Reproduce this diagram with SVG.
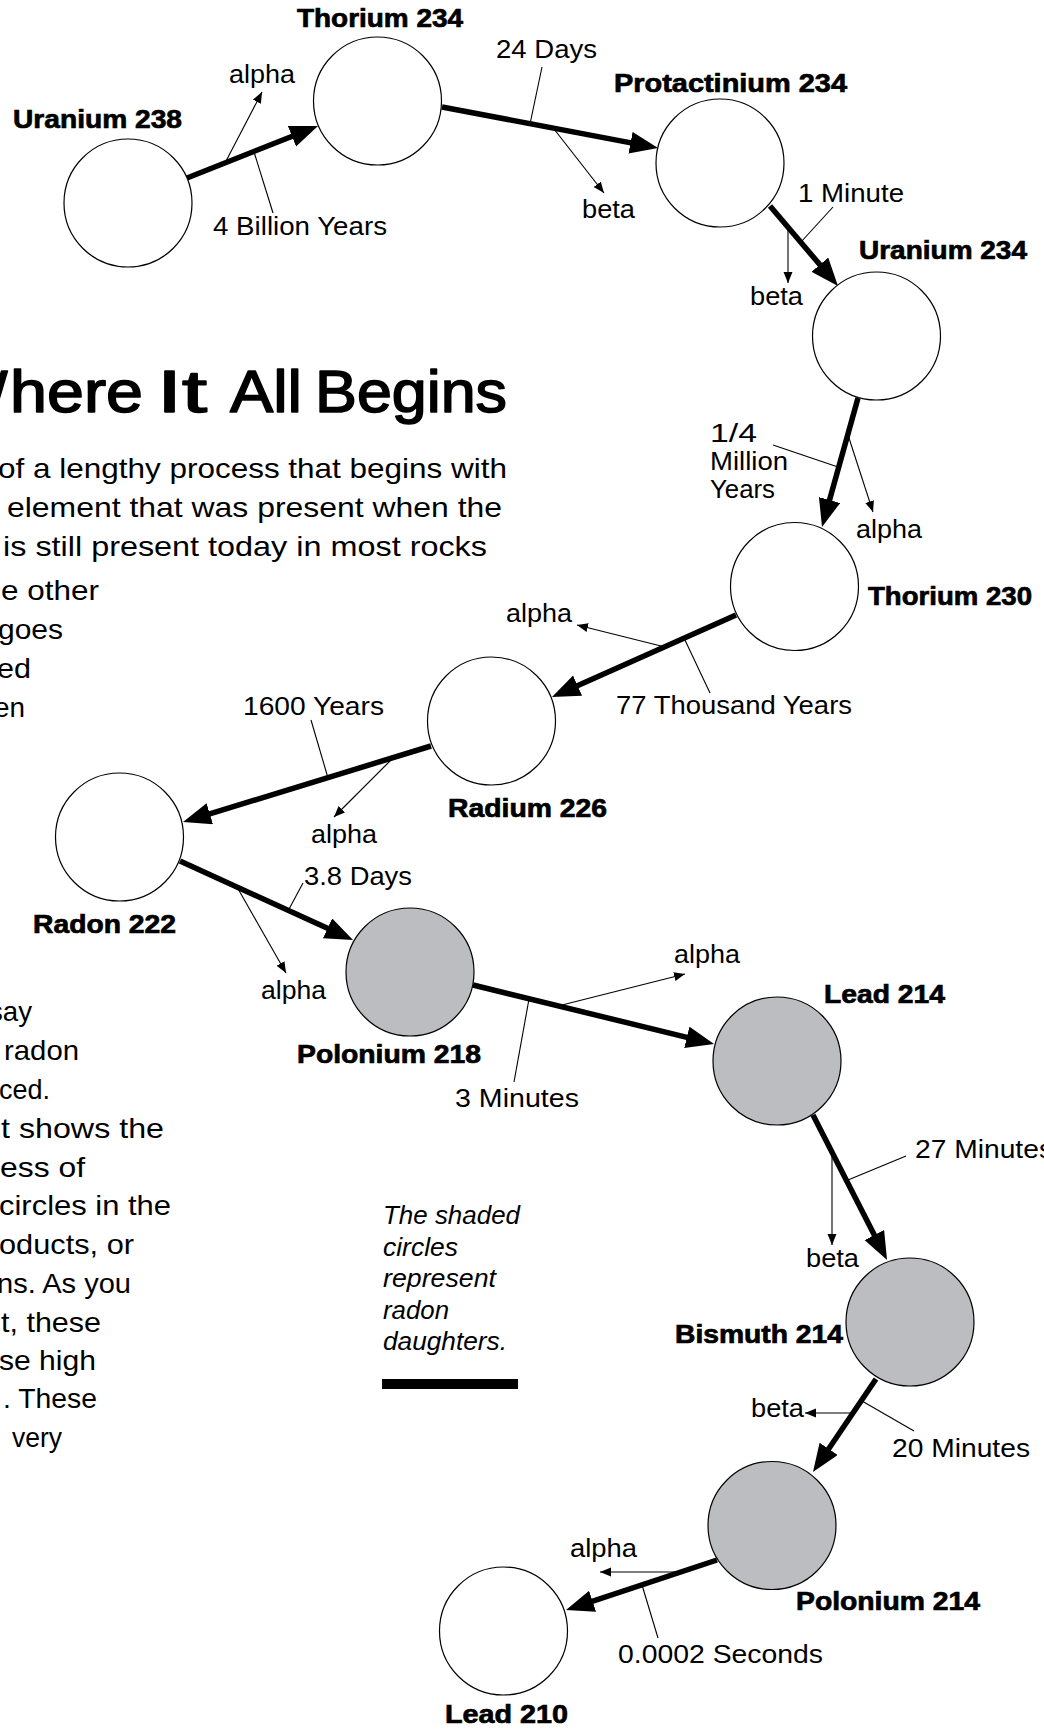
<svg xmlns="http://www.w3.org/2000/svg" width="1044" height="1729" viewBox="0 0 1044 1729">
<style>
text { font-family: "Liberation Sans", Arial, sans-serif; fill: #000; }
.lbl { font-size: 25px; }
.name { font-size: 26px; font-weight: bold; stroke: #000; stroke-width: 0.7px; }
.body { font-size: 28px; }
.note { font-size: 25px; font-style: italic; }
.title { font-size: 60px; stroke: #000; stroke-width: 1.6px; stroke-linejoin: round; }
.ring { stroke: #000; stroke-width: 1.2; }
.white { fill: #fff; }
.shade { fill: #bcbdc0; }
.thick { stroke: #000; stroke-width: 5.5; fill: none; marker-end: url(#big); }
.thin { stroke: #000; stroke-width: 1.1; fill: none; marker-end: url(#small); }
.leader { stroke: #000; stroke-width: 1.1; fill: none; }
</style>
<defs>
<marker id="big" markerUnits="userSpaceOnUse" markerWidth="30" markerHeight="24" refX="18" refY="11" orient="auto">
<path d="M0,0 L28,11 L0,22 z" fill="#000"/>
</marker>
<marker id="small" markerUnits="userSpaceOnUse" markerWidth="13" markerHeight="11" refX="11" refY="4.5" orient="auto">
<path d="M0,0 L11,4.5 L0,9 z" fill="#000"/>
</marker>
</defs>
<rect width="1044" height="1729" fill="#fff"/>

<g id="title">
<text class="title" y="412"><tspan x="-49">W</tspan><tspan x="10" textLength="133" lengthAdjust="spacingAndGlyphs">here</tspan> <tspan x="157" textLength="50" lengthAdjust="spacingAndGlyphs">It</tspan> <tspan x="230" textLength="72" lengthAdjust="spacingAndGlyphs">All</tspan> <tspan x="315" textLength="192" lengthAdjust="spacingAndGlyphs">Begins</tspan></text>
</g>

<g id="body-text" class="body">
<text x="-2" y="478" textLength="509" lengthAdjust="spacingAndGlyphs">of a lengthy process that begins with</text>
<text x="7" y="517" textLength="495" lengthAdjust="spacingAndGlyphs">element that was present when the</text>
<text x="3" y="556" textLength="484" lengthAdjust="spacingAndGlyphs">is still present today in most rocks</text>
<text x="1" y="600" textLength="98" lengthAdjust="spacingAndGlyphs">e other</text>
<text x="-2" y="639" textLength="65" lengthAdjust="spacingAndGlyphs">goes</text>
<text x="-3" y="678" textLength="34" lengthAdjust="spacingAndGlyphs">ed</text>
<text x="-6" y="717" textLength="31" lengthAdjust="spacingAndGlyphs">en</text>
<text x="-11" y="1021" textLength="43" lengthAdjust="spacingAndGlyphs">say</text>
<text x="4" y="1060" textLength="75" lengthAdjust="spacingAndGlyphs">radon</text>
<text x="-1" y="1099" textLength="51" lengthAdjust="spacingAndGlyphs">ced.</text>
<text x="1" y="1138" textLength="163" lengthAdjust="spacingAndGlyphs">t shows the</text>
<text x="0" y="1177" textLength="85" lengthAdjust="spacingAndGlyphs">ess of</text>
<text x="-1" y="1215" textLength="172" lengthAdjust="spacingAndGlyphs">circles in the</text>
<text x="-1" y="1254" textLength="135" lengthAdjust="spacingAndGlyphs">oducts, or</text>
<text x="-3" y="1293" textLength="134" lengthAdjust="spacingAndGlyphs">ns. As you</text>
<text x="1" y="1332" textLength="100" lengthAdjust="spacingAndGlyphs">t, these</text>
<text x="-1" y="1370" textLength="97" lengthAdjust="spacingAndGlyphs">se high</text>
<text x="3" y="1408" textLength="94" lengthAdjust="spacingAndGlyphs">. These</text>
<text x="12" y="1447" textLength="50" lengthAdjust="spacingAndGlyphs">very</text>
</g>

<g id="legend">
<text class="note"><tspan x="383" y="1224" textLength="137" lengthAdjust="spacingAndGlyphs">The shaded</tspan><tspan x="383" y="1256" textLength="75" lengthAdjust="spacingAndGlyphs">circles</tspan><tspan x="383" y="1287" textLength="113" lengthAdjust="spacingAndGlyphs">represent</tspan><tspan x="383" y="1319" textLength="66" lengthAdjust="spacingAndGlyphs">radon</tspan><tspan x="383" y="1350" textLength="124" lengthAdjust="spacingAndGlyphs">daughters.</tspan></text>
<rect x="382" y="1379" width="136" height="10" fill="#000"/>
</g>

<g id="connectors">
<line class="thick" x1="187" y1="178" x2="308.7" y2="129.7"/>
<line class="thick" x1="442" y1="107" x2="648.2" y2="146.1"/>
<line class="thick" x1="770" y1="206" x2="831.5" y2="278.4"/>
<line class="thick" x1="858" y1="398" x2="824.7" y2="517.4"/>
<line class="thick" x1="736" y1="615" x2="561.1" y2="692.9"/>
<line class="thick" x1="431" y1="746" x2="192.6" y2="819.1"/>
<line class="thick" x1="180" y1="861" x2="343.9" y2="935.8"/>
<line class="thick" x1="473" y1="985" x2="704.3" y2="1041.6"/>
<line class="thick" x1="813" y1="1115" x2="882.5" y2="1251.1"/>
<line class="thick" x1="876" y1="1379" x2="818.6" y2="1463.7"/>
<line class="thick" x1="717" y1="1560" x2="575.5" y2="1606.9"/>

<line class="thin" x1="225" y1="163" x2="262" y2="92"/>
<line class="thin" x1="554" y1="129" x2="604" y2="193"/>
<line class="thin" x1="788" y1="227" x2="788" y2="283"/>
<line class="thin" x1="848" y1="435" x2="873" y2="512"/>
<line class="thin" x1="665" y1="647" x2="577" y2="625"/>
<line class="thin" x1="393" y1="758" x2="334" y2="817"/>
<line class="thin" x1="237" y1="887" x2="286" y2="973"/>
<line class="thin" x1="558" y1="1006" x2="685" y2="974"/>
<line class="thin" x1="832" y1="1152" x2="832" y2="1245"/>
<line class="thin" x1="853" y1="1413" x2="805" y2="1413"/>
<line class="thin" x1="681" y1="1572" x2="600" y2="1572"/>

<line class="leader" x1="254" y1="152" x2="273" y2="213"/>
<line class="leader" x1="542" y1="67" x2="530" y2="124"/>
<line class="leader" x1="833" y1="207" x2="801" y2="242"/>
<line class="leader" x1="773" y1="445" x2="838" y2="467"/>
<line class="leader" x1="684" y1="638" x2="710" y2="693"/>
<line class="leader" x1="311" y1="720" x2="328" y2="778"/>
<line class="leader" x1="303" y1="883" x2="288" y2="911"/>
<line class="leader" x1="529" y1="999" x2="514" y2="1082"/>
<line class="leader" x1="906" y1="1156" x2="848" y2="1180"/>
<line class="leader" x1="862" y1="1401" x2="914" y2="1431"/>
<line class="leader" x1="642" y1="1585" x2="658" y2="1638"/>
</g>

<g id="connector-labels" class="lbl">
<text x="229" y="83" textLength="66" lengthAdjust="spacingAndGlyphs">alpha</text>
<text x="213" y="235" textLength="174" lengthAdjust="spacingAndGlyphs">4 Billion Years</text>
<text x="496" y="58" textLength="101" lengthAdjust="spacingAndGlyphs">24 Days</text>
<text x="582" y="218" textLength="53" lengthAdjust="spacingAndGlyphs">beta</text>
<text x="798" y="202" textLength="106" lengthAdjust="spacingAndGlyphs">1 Minute</text>
<text x="750" y="305" textLength="53" lengthAdjust="spacingAndGlyphs">beta</text>
<text x="710" y="442" textLength="47" lengthAdjust="spacingAndGlyphs">1/4</text>
<text x="710" y="470" textLength="78" lengthAdjust="spacingAndGlyphs">Million</text>
<text x="710" y="498" textLength="65" lengthAdjust="spacingAndGlyphs">Years</text>
<text x="856" y="538" textLength="66" lengthAdjust="spacingAndGlyphs">alpha</text>
<text x="506" y="622" textLength="66" lengthAdjust="spacingAndGlyphs">alpha</text>
<text x="616" y="714" textLength="236" lengthAdjust="spacingAndGlyphs">77 Thousand Years</text>
<text x="243" y="715" textLength="141" lengthAdjust="spacingAndGlyphs">1600 Years</text>
<text x="311" y="843" textLength="66" lengthAdjust="spacingAndGlyphs">alpha</text>
<text x="304" y="885" textLength="108" lengthAdjust="spacingAndGlyphs">3.8 Days</text>
<text x="261" y="999" textLength="65" lengthAdjust="spacingAndGlyphs">alpha</text>
<text x="674" y="963" textLength="66" lengthAdjust="spacingAndGlyphs">alpha</text>
<text x="455" y="1107" textLength="124" lengthAdjust="spacingAndGlyphs">3 Minutes</text>
<text x="915" y="1158" textLength="138" lengthAdjust="spacingAndGlyphs">27 Minutes</text>
<text x="806" y="1267" textLength="53" lengthAdjust="spacingAndGlyphs">beta</text>
<text x="751" y="1417" textLength="53" lengthAdjust="spacingAndGlyphs">beta</text>
<text x="892" y="1457" textLength="138" lengthAdjust="spacingAndGlyphs">20 Minutes</text>
<text x="570" y="1557" textLength="67" lengthAdjust="spacingAndGlyphs">alpha</text>
<text x="618" y="1663" textLength="205" lengthAdjust="spacingAndGlyphs">0.0002 Seconds</text>
</g>

<g id="uranium-238"><circle class="ring white" cx="128" cy="203" r="64"/><text class="name" x="13" y="128" textLength="169" lengthAdjust="spacingAndGlyphs">Uranium 238</text></g>
<g id="thorium-234"><circle class="ring white" cx="377.5" cy="101" r="64"/><text class="name" x="297" y="27" textLength="166" lengthAdjust="spacingAndGlyphs">Thorium 234</text></g>
<g id="protactinium-234"><circle class="ring white" cx="720" cy="163" r="64"/><text class="name" x="614" y="92" textLength="233" lengthAdjust="spacingAndGlyphs">Protactinium 234</text></g>
<g id="uranium-234"><circle class="ring white" cx="876.5" cy="336" r="64"/><text class="name" x="859" y="259" textLength="168" lengthAdjust="spacingAndGlyphs">Uranium 234</text></g>
<g id="thorium-230"><circle class="ring white" cx="794.5" cy="586.5" r="64"/><text class="name" x="868" y="605" textLength="164" lengthAdjust="spacingAndGlyphs">Thorium 230</text></g>
<g id="radium-226"><circle class="ring white" cx="491.5" cy="721" r="64"/><text class="name" x="448" y="817" textLength="159" lengthAdjust="spacingAndGlyphs">Radium 226</text></g>
<g id="radon-222"><circle class="ring white" cx="119.5" cy="837" r="64"/><text class="name" x="33" y="933" textLength="143" lengthAdjust="spacingAndGlyphs">Radon 222</text></g>
<g id="polonium-218"><circle class="ring shade" cx="410" cy="972" r="64"/><text class="name" x="297" y="1063" textLength="184" lengthAdjust="spacingAndGlyphs">Polonium 218</text></g>
<g id="lead-214"><circle class="ring shade" cx="777" cy="1061" r="64"/><text class="name" x="824" y="1003" textLength="121" lengthAdjust="spacingAndGlyphs">Lead 214</text></g>
<g id="bismuth-214"><circle class="ring shade" cx="910" cy="1322" r="64"/><text class="name" x="675" y="1343" textLength="168" lengthAdjust="spacingAndGlyphs">Bismuth 214</text></g>
<g id="polonium-214"><circle class="ring shade" cx="772" cy="1525.5" r="64"/><text class="name" x="796" y="1610" textLength="184" lengthAdjust="spacingAndGlyphs">Polonium 214</text></g>
<g id="lead-210"><circle class="ring white" cx="503.5" cy="1631" r="64"/><text class="name" x="445" y="1723" textLength="123" lengthAdjust="spacingAndGlyphs">Lead 210</text></g>
</svg>
